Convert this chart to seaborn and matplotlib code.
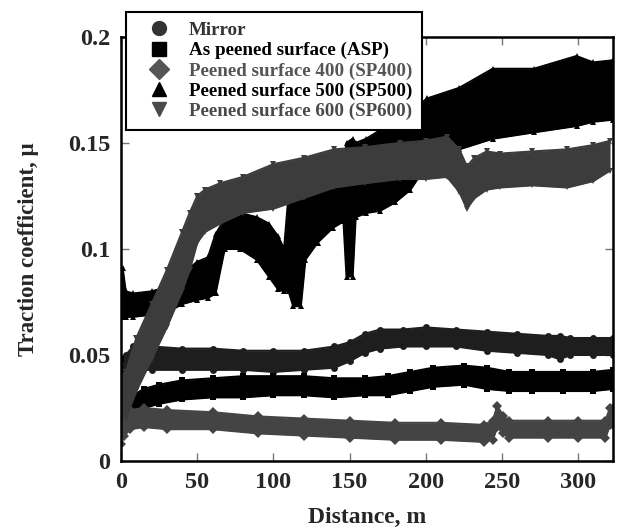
import matplotlib
matplotlib.use("Agg")
import matplotlib.pyplot as plt
from matplotlib.lines import Line2D
from matplotlib.ticker import FuncFormatter
import seaborn as sns

# --- data (band lower / upper edges) ---
x_mirror = [0, 3, 8, 20, 40, 60, 80, 100, 120, 140, 150, 160, 170, 185, 200, 220, 240, 260, 280, 288, 295, 310, 323]
mirror_lo = [0.036, 0.040, 0.043, 0.043, 0.043, 0.043, 0.043, 0.042, 0.043, 0.044, 0.047, 0.051, 0.053, 0.054,
             0.054, 0.054, 0.052, 0.051, 0.050, 0.048, 0.050, 0.050, 0.050]
mirror_hi = [0.046, 0.050, 0.054, 0.054, 0.053, 0.053, 0.052, 0.052, 0.052, 0.054, 0.056, 0.060, 0.062, 0.062,
             0.063, 0.062, 0.061, 0.060, 0.059, 0.059, 0.058, 0.058, 0.058]

x_asp = [0, 1, 3, 8, 15, 25, 40, 60, 80, 100, 120, 140, 160, 175, 190, 205, 225, 240, 255, 270, 290, 310, 323]
asp_lo = [0.040, 0.022, 0.019, 0.022, 0.025, 0.027, 0.029, 0.030, 0.030, 0.031, 0.031, 0.030, 0.031, 0.031,
          0.033, 0.035, 0.036, 0.034, 0.033, 0.033, 0.033, 0.033, 0.034]
asp_hi = [0.048, 0.030, 0.028, 0.031, 0.034, 0.036, 0.038, 0.039, 0.040, 0.040, 0.040, 0.039, 0.039, 0.040,
          0.042, 0.044, 0.045, 0.044, 0.042, 0.042, 0.042, 0.042, 0.043]

x_sp400 = [0, 2, 6, 15, 30, 60, 90, 120, 150, 180, 210, 238, 244, 247, 251, 255, 280, 300, 318, 321, 323]
sp400_lo = [0.008, 0.012, 0.015, 0.016, 0.015, 0.015, 0.013, 0.012, 0.011, 0.010, 0.010, 0.009, 0.010, 0.016,
            0.013, 0.011, 0.011, 0.011, 0.011, 0.017, 0.017]
sp400_hi = [0.024, 0.022, 0.024, 0.025, 0.024, 0.023, 0.021, 0.020, 0.019, 0.018, 0.018, 0.017, 0.019, 0.026,
            0.021, 0.019, 0.019, 0.019, 0.019, 0.025, 0.025]

x_sp500 = [0, 1, 3, 8, 20, 30, 40, 50, 57, 62, 68, 78, 89, 97, 103, 107, 110, 113, 118, 121, 129, 139, 146,
           148, 152, 154, 161, 170, 180, 190, 201, 222, 244, 271, 299, 310, 323]
sp500_lo = [0.068, 0.068, 0.068, 0.068, 0.069, 0.070, 0.074, 0.076, 0.077, 0.079, 0.100, 0.100, 0.095, 0.087,
            0.081, 0.080, 0.080, 0.073, 0.073, 0.095, 0.103, 0.110, 0.113, 0.087, 0.087, 0.115, 0.117, 0.118,
            0.122, 0.128, 0.140, 0.147, 0.152, 0.155, 0.158, 0.160, 0.161]
sp500_hi = [0.091, 0.091, 0.080, 0.079, 0.080, 0.082, 0.088, 0.094, 0.096, 0.107, 0.114, 0.117, 0.115, 0.112,
            0.106, 0.100, 0.126, 0.128, 0.128, 0.128, 0.129, 0.128, 0.140, 0.150, 0.152, 0.150, 0.152, 0.156,
            0.160, 0.165, 0.171, 0.176, 0.185, 0.185, 0.191, 0.188, 0.189]

x_sp600 = [0, 3, 10, 20, 30, 40, 45, 50, 55, 65, 80, 100, 120, 140, 160, 183, 200, 214, 222, 227, 232, 240,
           249, 270, 293, 310, 321]
sp600_lo = [0.022, 0.020, 0.033, 0.048, 0.063, 0.080, 0.090, 0.103, 0.108, 0.112, 0.117, 0.119, 0.124, 0.129,
            0.131, 0.133, 0.133, 0.134, 0.127, 0.119, 0.124, 0.128, 0.129, 0.130, 0.129, 0.132, 0.137]
sp600_hi = [0.040, 0.042, 0.058, 0.074, 0.090, 0.108, 0.117, 0.125, 0.128, 0.131, 0.134, 0.140, 0.143, 0.147,
            0.148, 0.150, 0.151, 0.153, 0.147, 0.139, 0.143, 0.146, 0.145, 0.146, 0.147, 0.149, 0.151]

labels = ["Mirror", "As peened surface (ASP)", "Peened surface 400 (SP400)",
          "Peened surface 500 (SP500)", "Peened surface 600 (SP600)"]
markers = ["o", "s", "D", "^", "v"]
band_colors = ["#1e1e1e", "#000000", "#444444", "#000000", "#3c3c3c"]
text_colors = ["#333333", "#000000", "#555555", "#000000", "#4a4a4a"]

series = [
    (x_mirror, mirror_lo, mirror_hi),
    (x_asp, asp_lo, asp_hi),
    (x_sp400, sp400_lo, sp400_hi),
    (x_sp500, sp500_lo, sp500_hi),
    (x_sp600, sp600_lo, sp600_hi),
]

sns.set_style("ticks")
plt.rcParams["font.family"] = ["Liberation Serif", "DejaVu Serif"]
plt.rcParams["font.weight"] = "bold"

fig = plt.figure(figsize=(6.18, 5.32), dpi=100)
ax = fig.add_axes([0.196, 0.1335, 0.796, 0.797])

# each run is drawn as a solid band (markers overlap so densely in the original)
for (xs, lo, hi), m, c in zip(series, markers, band_colors):
    ax.fill_between(xs, lo, hi, color=c, linewidth=0, zorder=2)
    for edge in (lo, hi):
        sns.lineplot(x=xs, y=edge, ax=ax, color=c, marker=m, markersize=5,
                     markeredgewidth=0, linewidth=1.5, zorder=2, legend=False)

ax.set_xlim(0, 323)
ax.set_ylim(0, 0.2)
ax.set_xticks([0, 50, 100, 150, 200, 250, 300])
ax.set_yticks([0, 0.05, 0.1, 0.15, 0.2])
ax.yaxis.set_major_formatter(FuncFormatter(lambda v, p: f"{v:g}"))
ax.tick_params(direction="in", top=True, right=True, length=6, width=1, color="#777777",
               labelsize=17.5, pad=8)
for lab in ax.get_xticklabels() + ax.get_yticklabels():
    lab.set_fontweight("bold")
for sp in ax.spines.values():
    sp.set_linewidth(1.8)
    sp.set_color("black")

ax.set_xlabel("Distance, m", fontsize=17, fontweight="bold")
ax.set_ylabel("Traction coefficient, \u03bc", fontsize=16.5, fontweight="bold")
ax.xaxis.set_label_coords(0.5, -0.108)
ax.yaxis.set_label_coords(-0.166, 0.5)

handles = [Line2D([], [], linestyle="none", marker=m, markersize=10, color=c)
           for m, c in zip(markers, text_colors)]
leg = fig.legend(handles, labels, loc="upper left", bbox_to_anchor=(0.204, 0.977),
                 frameon=True, fancybox=False, edgecolor="black", framealpha=1,
                 prop={"family": "Liberation Serif", "weight": "bold", "size": 13.7},
                 handlelength=2.5, handletextpad=0.3, labelspacing=0.15, borderpad=0.5,
                 borderaxespad=0)
leg.get_frame().set_linewidth(1.5)
for t, c in zip(leg.get_texts(), text_colors):
    t.set_color(c)

fig.savefig("out.png", dpi=100)
